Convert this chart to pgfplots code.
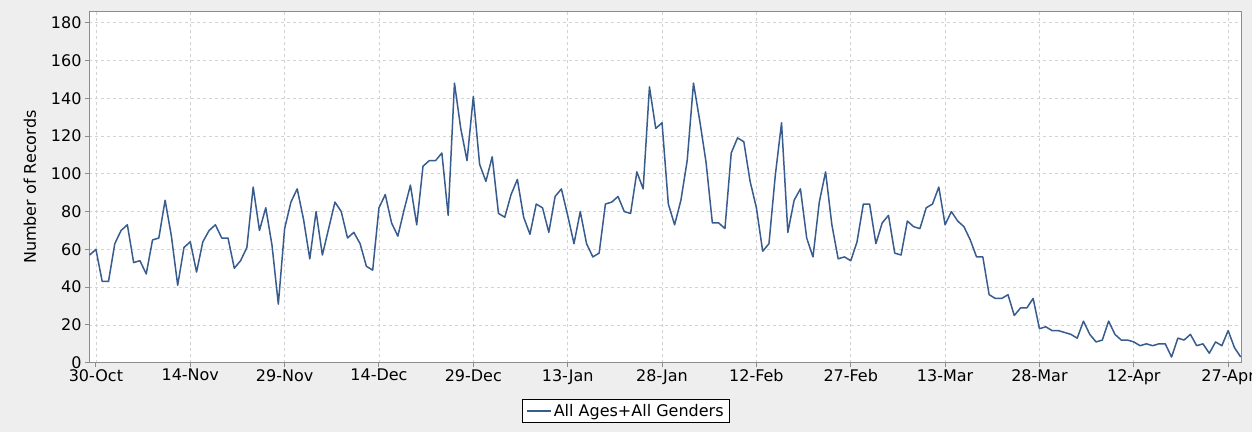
\documentclass[border=0pt]{standalone}
\usepackage{fontspec}
\setmainfont{DejaVu Sans}
\usepackage{pgfplots}
\pgfplotsset{compat=1.18}
\definecolor{bg}{RGB}{238,238,238}
\definecolor{linec}{RGB}{56,92,142}
\definecolor{gridc}{RGB}{210,210,210}
\definecolor{axc}{RGB}{140,140,140}
\pgfplotstableread{
d v
-1 57
0 60
1 43
2 43
3 63
4 70
5 73
6 53
7 54
8 47
9 65
10 66
11 86
12 67
13 41
14 61
15 64
16 48
17 64
18 70
19 73
20 66
21 66
22 50
23 54
24 61
25 93
26 70
27 82
28 62
29 31
30 71
31 85
32 92
33 76
34 55
35 80
36 57
37 71
38 85
39 80
40 66
41 69
42 63
43 51
44 49
45 82
46 89
47 74
48 67
49 81
50 94
51 73
52 104
53 107
54 107
55 111
56 78
57 148
58 124
59 107
60 141
61 105
62 96
63 109
64 79
65 77
66 89
67 97
68 77
69 68
70 84
71 82
72 69
73 88
74 92
75 78
76 63
77 80
78 63
79 56
80 58
81 84
82 85
83 88
84 80
85 79
86 101
87 92
88 146
89 124
90 127
91 84
92 73
93 86
94 107
95 148
96 128
97 106
98 74
99 74
100 71
101 111
102 119
103 117
104 96
105 82
106 59
107 63
108 99
109 127
110 69
111 86
112 92
113 66
114 56
115 85
116 101
117 73
118 55
119 56
120 54
121 64
122 84
123 84
124 63
125 74
126 78
127 58
128 57
129 75
130 72
131 71
132 82
133 84
134 93
135 73
136 80
137 75
138 72
139 65
140 56
141 56
142 36
143 34
144 34
145 36
146 25
147 29
148 29
149 34
150 18
151 19
152 17
153 17
154 16
155 15
156 13
157 22
158 15
159 11
160 12
161 22
162 15
163 12
164 12
165 11
166 9
167 10
168 9
169 10
170 10
171 3
172 13
173 12
174 15
175 9
176 10
177 5
178 11
179 9
180 17
181 8
182 3
}\datatable
\begin{document}
\begin{tikzpicture}[x=1pt,y=1pt]
\fill[bg] (0,0) rectangle (1252,432);
\useasboundingbox (0,0) rectangle (1252,432);
\begin{axis}[
  at={(89pt,69.3pt)}, anchor=south west,
  scale only axis, width=1153pt, height=351pt,
  xmin=-1.1, xmax=182.2, ymin=0, ymax=185.8,
  xtick={0,15,...,180},
  xticklabels={30-Oct,14-Nov,29-Nov,14-Dec,29-Dec,13-Jan,28-Jan,12-Feb,27-Feb,13-Mar,28-Mar,12-Apr,27-Apr},
  ytick={0,20,...,180},
  grid=major,
  major grid style={gridc, dash pattern=on 3pt off 3pt, line width=0.8pt},
  axis line style={axc, line width=1pt},
  tick style={axc, line width=1pt},
  tick align=outside, tick pos=left, major tick length=4pt,
  ticklabel style={font=\fontsize{16}{18}\selectfont},
  xticklabel style={yshift=1pt},
  /pgf/number format/assume math mode=true,
  every axis y label/.style={at={(axis description cs:-0.0512,0.5)}, rotate=90, anchor=center},
  ylabel={Number of Records},
  ylabel style={font=\fontsize{16}{18}\selectfont},
  axis background/.style={fill=white},
  legend image code/.code={\draw[#1] (0pt,0pt) -- (24pt,0pt);},
  legend style={at={(0.4657,-0.1376)}, anchor=center, draw=black, line width=0.8pt, fill=white,
    font=\fontsize{16}{18}\selectfont, legend cell align=left, inner xsep=4pt, inner ysep=3pt},
]
\addplot[linec, line width=1.5pt, line join=round] table[x=d, y=v] {\datatable};
\addlegendentry{All Ages+All Genders}
\end{axis}
\end{tikzpicture}
\end{document}
